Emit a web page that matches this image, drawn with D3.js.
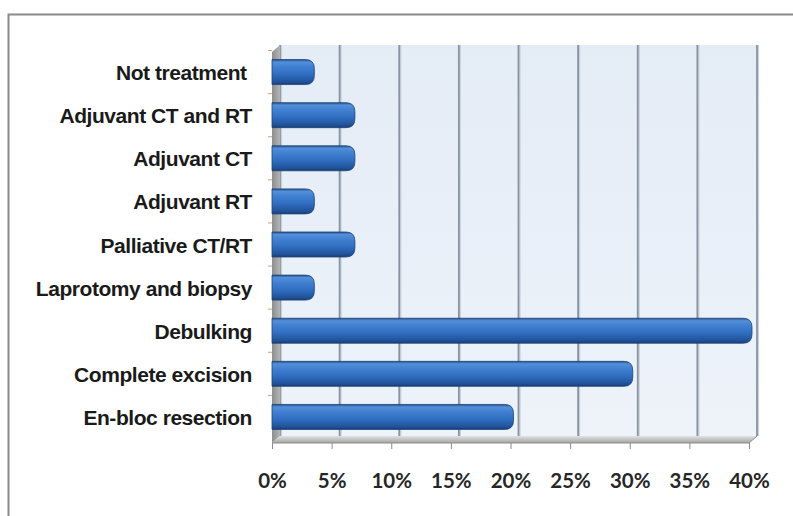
<!DOCTYPE html>
<html>
<head>
<meta charset="utf-8">
<script src="https://cdn.jsdelivr.net/npm/d3@7"></script>
<style>
  html, body { margin: 0; padding: 0; background: #ffffff; }
  svg { display: block; }
</style>
</head>
<body>
<svg id="chart" width="793" height="516"></svg>
<script>
// ---- data ----
const categories = [
  "Not treatment ",
  "Adjuvant CT and RT",
  "Adjuvant CT",
  "Adjuvant RT",
  "Palliative CT/RT",
  "Laprotomy and biopsy",
  "Debulking",
  "Complete excision",
  "En-bloc resection"
];
const values = [0.033, 0.067, 0.067, 0.033, 0.067, 0.033, 0.40, 0.30, 0.20];
const tickValues = [0, 0.05, 0.10, 0.15, 0.20, 0.25, 0.30, 0.35, 0.40];
const tickLabels = ["0%", "5%", "10%", "15%", "20%", "25%", "30%", "35%", "40%"];

// ---- layout ----
const svg = d3.select("#chart");
const W = 793, H = 516;
const depthX = 8, depthY = -7;
const plotTop = 52, plotBottom = 443;

const x = d3.scaleLinear().domain([0, 0.40]).range([272, 749]);
const y = d3.scaleBand().domain(categories).range([50.5, 438.5])
  .paddingInner(0.42).paddingOuter(0.21);

const defs = svg.append("defs");

const wallGrad = defs.append("linearGradient").attr("id", "wallGrad")
  .attr("x1", 0).attr("y1", 0).attr("x2", 0).attr("y2", 1);
wallGrad.append("stop").attr("offset", "0%").attr("stop-color", "#e4ecf6");
wallGrad.append("stop").attr("offset", "100%").attr("stop-color", "#eef3fa");

const sideGrad = defs.append("linearGradient").attr("id", "sideGrad")
  .attr("x1", 0).attr("y1", 0).attr("x2", 1).attr("y2", 0);
sideGrad.append("stop").attr("offset", "0%").attr("stop-color", "#8e8e8e");
sideGrad.append("stop").attr("offset", "100%").attr("stop-color", "#b4b4b4");

const floorGrad = defs.append("linearGradient").attr("id", "floorGrad")
  .attr("x1", 0).attr("y1", 0).attr("x2", 0).attr("y2", 1);
floorGrad.append("stop").attr("offset", "0%").attr("stop-color", "#e2e2e2");
floorGrad.append("stop").attr("offset", "100%").attr("stop-color", "#a3a3a3");

const barGrad = defs.append("linearGradient").attr("id", "barGrad")
  .attr("x1", 0).attr("y1", 0).attr("x2", 0).attr("y2", 1);
[["0%", "#23518f"], ["10%", "#548fd8"], ["28%", "#4281d2"], ["60%", "#2f6dc0"],
 ["88%", "#22539a"], ["100%", "#183f78"]].forEach(([o, c]) =>
  barGrad.append("stop").attr("offset", o).attr("stop-color", c));

// outer frame
svg.append("rect").attr("x", 8.5).attr("y", 14.5).attr("width", W + 20).attr("height", H + 20)
  .attr("fill", "#ffffff").attr("stroke", "#8a8a8a").attr("stroke-width", 2);

// back wall
const backLeft = x(0) + depthX, backRight = x(0.40) + depthX;
const backTop = plotTop + depthY, backBottom = plotBottom + depthY;
svg.append("rect").attr("x", backLeft).attr("y", backTop)
  .attr("width", backRight - backLeft).attr("height", backBottom - backTop)
  .attr("fill", "url(#wallGrad)");

// gridlines on back wall
const grid = svg.append("g");
tickValues.forEach(v => {
  const gx = x(v) + depthX;
  grid.append("line").attr("x1", gx + 1.5).attr("x2", gx + 1.5)
    .attr("y1", backTop).attr("y2", backBottom)
    .attr("stroke", "#c9d1db").attr("stroke-width", 1.2);
  grid.append("line").attr("x1", gx).attr("x2", gx)
    .attr("y1", backTop).attr("y2", backBottom)
    .attr("stroke", "#8793a1").attr("stroke-width", 1.8);
});

// left side wall
svg.append("path")
  .attr("d", `M${x(0)},${plotTop} L${backLeft},${backTop} L${backLeft},${backBottom} L${x(0)},${plotBottom} Z`)
  .attr("fill", "url(#sideGrad)");

// floor
svg.append("path")
  .attr("d", `M${x(0)},${plotBottom} L${backLeft},${backBottom} L${backRight},${backBottom} L${x(0.40)},${plotBottom} Z`)
  .attr("fill", "url(#floorGrad)");
svg.append("line").attr("x1", x(0)).attr("x2", x(0.40))
  .attr("y1", plotBottom).attr("y2", plotBottom)
  .attr("stroke", "#8c8c8c").attr("stroke-width", 1);
svg.append("line").attr("x1", x(0.40)).attr("x2", backRight)
  .attr("y1", plotBottom).attr("y2", backBottom)
  .attr("stroke", "#8c8c8c").attr("stroke-width", 1);

// category ticks (between categories)
const step = y.step();
const catTicks = svg.append("g");
categories.forEach(c => {
  const ty = y(c) - step * y.paddingInner() / 2;
  catTicks.append("line").attr("x1", x(0) - 4).attr("x2", x(0))
    .attr("y1", ty).attr("y2", ty)
    .attr("stroke", "#c9a47a").attr("stroke-width", 1);
});

// bars
const bh = y.bandwidth();
const r = 9;
svg.append("g").selectAll("path").data(categories).join("path")
  .attr("d", (c, i) => {
    const x0 = x(0), x1 = x(values[i]) + 3, y0 = y(c), y1 = y0 + bh;
    return `M${x0},${y0} L${x1 - r},${y0} Q${x1},${y0} ${x1},${y0 + r} L${x1},${y1 - r} Q${x1},${y1} ${x1 - r},${y1} L${x0},${y1} Z`;
  })
  .attr("fill", "url(#barGrad)")
  .attr("stroke", "#1c4479").attr("stroke-width", 0.8);

// category labels
svg.append("g").selectAll("text").data(categories).join("text")
  .attr("x", 252)
  .attr("y", c => y(c) + bh / 2 + 8)
  .attr("text-anchor", "end")
  .style("white-space", "pre")
  .attr("font-family", "Liberation Sans, Arial, sans-serif")
  .attr("font-weight", "bold")
  .attr("font-size", 21)
  .attr("letter-spacing", -0.45)
  .attr("fill", "#1a1a1a")
  .text(c => c);

// x axis ticks and labels
const xAxis = d3.axisBottom(x).tickValues(tickValues)
  .tickFormat((d, i) => tickLabels[i]).tickSize(6).tickPadding(24);
const ax = svg.append("g").attr("transform", `translate(0,${plotBottom})`).call(xAxis);
ax.select(".domain").remove();
ax.selectAll(".tick line").attr("stroke", "#8c8c8c");
ax.selectAll(".tick text")
  .attr("font-family", "Lato, Open Sans, sans-serif")
  .attr("font-weight", "bold")
  .attr("font-size", 20.5)
  .attr("fill", "#262626");
</script>
</body>
</html>
